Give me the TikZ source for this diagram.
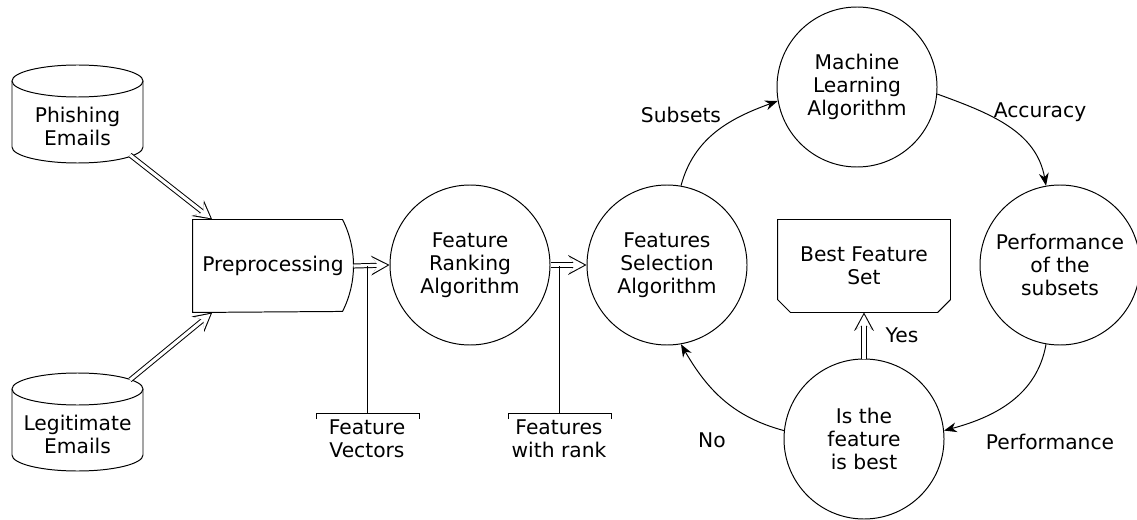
\documentclass[tikz,border=0pt]{standalone}
\usepackage{fontspec}
\setmainfont{DejaVu Sans}
\usepackage{tikz}
\usetikzlibrary{arrows.meta}

\begin{document}
\begin{tikzpicture}[x=0.25mm, y=0.25mm, line width=0.7pt,
        font=\fontsize{14.4}{16.4}\selectfont,
        algo/.style={circle, draw, minimum size=4cm, inner sep=0pt, align=center},
        dbl/.style={line width=3.6pt, -{Stealth[length=13pt, width=14pt, inset=5pt]},
            postaction={draw=white, line width=2.2pt, shorten >=1.5pt,
                -{Stealth[length=10.6pt, width=11.2pt, inset=4pt]}}},
        flow/.style={-{Stealth[length=9pt, width=7pt]}}]
        \useasboundingbox (0,0) rectangle (1137,519);

        % Email sources (cylinders)
        \node[align=center] (phish) at (77.5,393) {Phishing\\Emails};
        \node[align=center] (legit) at (77.5,85) {Legitimate\\Emails};
        \foreach \n in {phish, legit} {
            \draw ([shift={(-65.5,45)}]\n.center) -- ([shift={(-65.5,-21)}]\n.center)
                arc[start angle=180, end angle=360, x radius=65.5, y radius=16]
                -- ([shift={(65.5,45)}]\n.center);
            \draw ([shift={(0,45)}]\n.center) ellipse[x radius=65.5, y radius=16];
        }
        \coordinate (phishout) at (130,364);
        \coordinate (legitout) at (130,139);

        % Preprocessing block, curved right side
        \node[minimum width=4cm, minimum height=2.3cm, inner sep=0pt] (prep) at (273,253) {Preprocessing};
        \draw (prep.north west) -- ([xshift=-7.8pt]prep.north east)
            arc[start angle=26.9, end angle=-26.9, radius=25.4mm]
            -- (prep.south west) -- cycle;

        % Algorithms
        \node[algo] (rank) at (470,254) {Feature\\Ranking\\Algorithm};
        \node[algo] (sel) at (667,254) {Features\\Selection\\Algorithm};
        \node[algo] (ml) at (857,432) {Machine\\Learning\\Algorithm};
        \node[algo] (perf) at (1060,254) {Performance\\of the\\subsets};
        \node[algo] (isbest) at (864,80) {Is the\\feature\\is best};

        % Result block, chamfered bottom corners
        \node[minimum width=4.3cm, minimum height=2.3cm, inner sep=0pt, align=center] (best) at (864,253) {Best Feature\\Set};
        \draw (best.north west) -- (best.north east) -- ([yshift=9.2pt]best.south east)
            -- ([xshift=-9.2pt]best.south east) -- ([xshift=9.2pt]best.south west)
            -- ([yshift=9.2pt]best.south west) -- cycle;

        % Double arrows
        \draw[dbl] (phishout) -- ([xshift=14pt]prep.north west);
        \draw[dbl] (legitout) -- ([xshift=14pt]prep.south west);
        \draw[dbl] (prep.east) -- (rank.west);
        \draw[dbl] (rank.east) -- (sel.west);
        \draw[dbl] (isbest.north) -- (best.south);

        % Annotations under the arrows
        \node[align=center] (vec) at (367,80) {Feature\\Vectors};
        \node[align=center] (wrank) at (559,80) {Features\\with rank};
        \coordinate (veca) at (367,253);
        \coordinate (vecb) at (367,106);
        \coordinate (wranka) at (559,253);
        \coordinate (wrankb) at (559,106);
        \draw (veca) -- (vecb);
        \draw (wranka) -- (wrankb);
        \draw (316,100) -- (316,106) -- (419,106) -- (419,100);
        \draw (508,100) -- (508,106) -- (611,106) -- (611,100);

        % Loop
        \draw[flow] (sel.80) to[out=75, in=200] (ml.190);
        \draw[flow] (ml.-5) to[out=-20, in=100] (perf.100);
        \draw[flow] (perf.-100) to[out=-100, in=15] (isbest.6);
        \draw[flow] (isbest.174) to[out=165, in=-60] (sel.-80);

        % Labels
        \node (lsub) at (681,404) {Subsets};
        \node (lacc) at (1040,407) {Accuracy};
        \node (lperf) at (1050,77) {Performance};
        \node (lno) at (712,79) {No};
        \node (lyes) at (902,184) {Yes};
    \end{tikzpicture}
\end{document}
